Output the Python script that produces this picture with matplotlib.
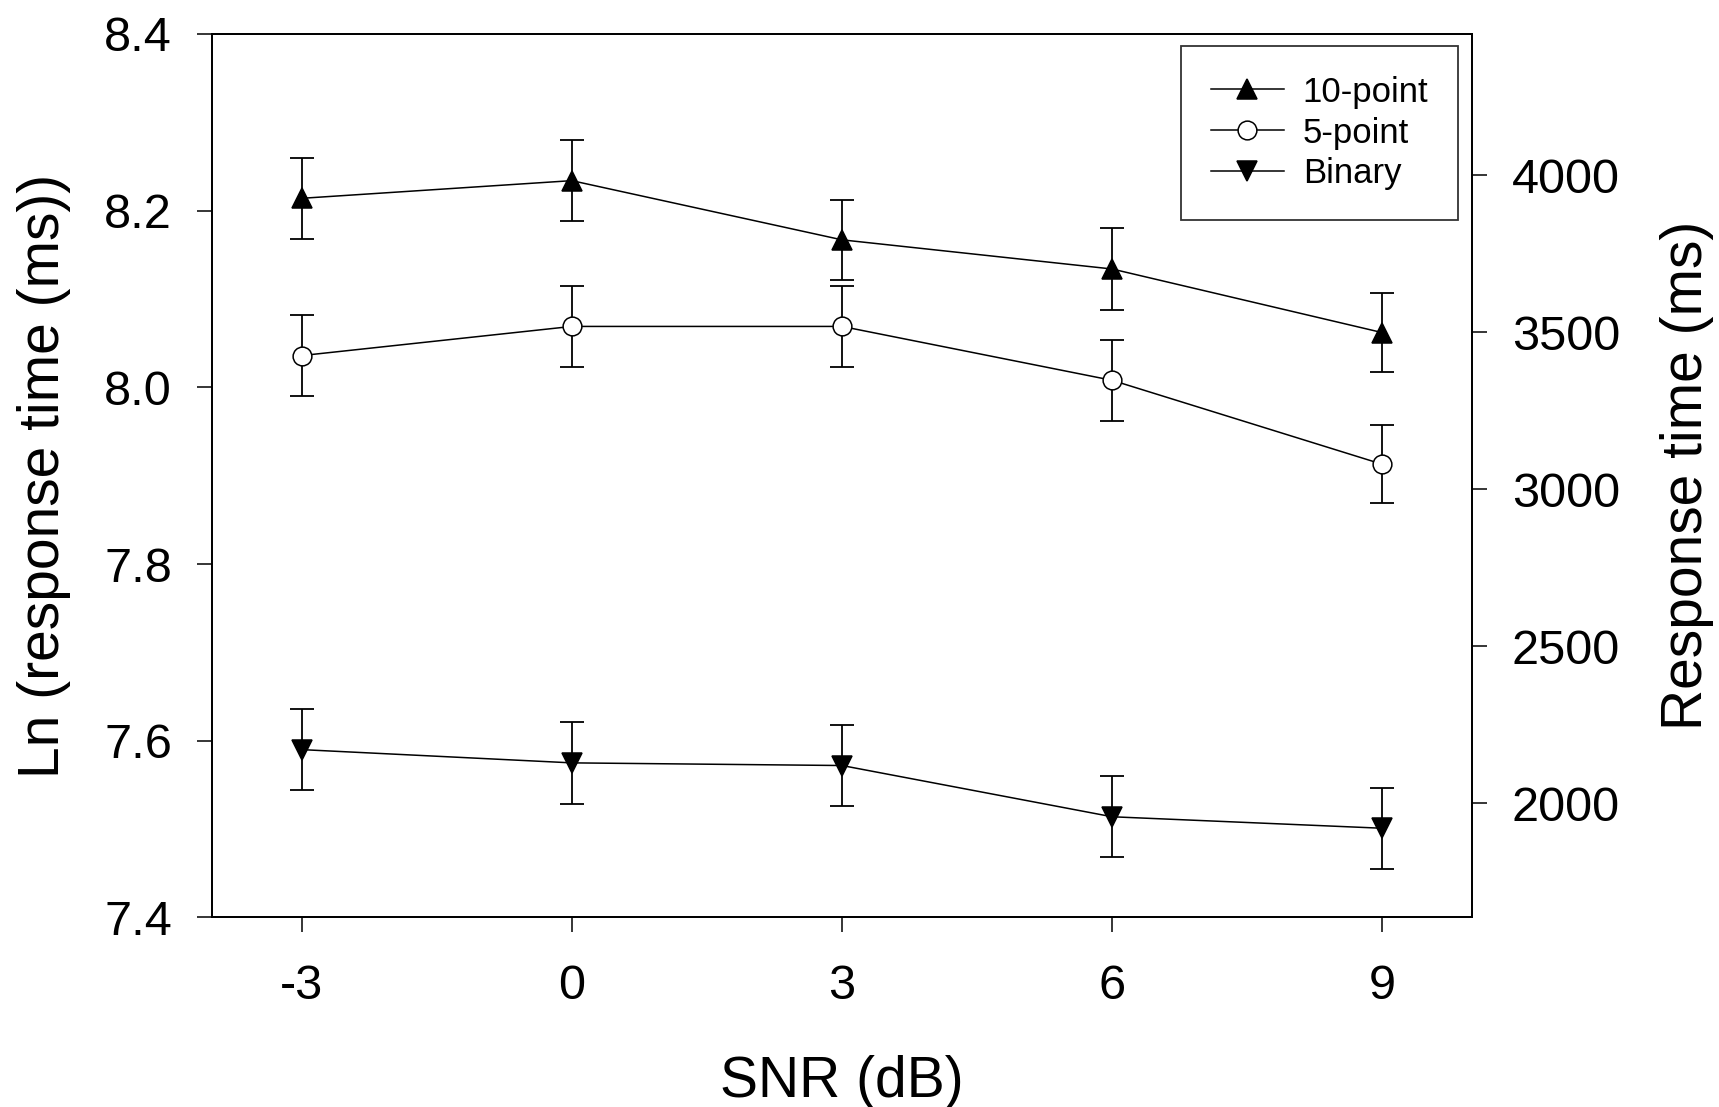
import matplotlib.pyplot as plt
import numpy as np

plt.rcParams['font.family'] = ['Liberation Sans', 'DejaVu Sans']
plt.rcParams['axes.unicode_minus'] = False

# Datos: SNR y ln del tiempo de respuesta (media y error)
snr = [-3, 0, 3, 6, 9]
diez_puntos = [8.214, 8.234, 8.167, 8.134, 8.062]
diez_puntos_err = [0.046, 0.046, 0.045, 0.046, 0.045]
cinco_puntos = [8.036, 8.069, 8.069, 8.008, 7.913]
cinco_puntos_err = [0.046, 0.046, 0.046, 0.046, 0.044]
binario = [7.590, 7.575, 7.572, 7.514, 7.501]
binario_err = [0.046, 0.046, 0.046, 0.046, 0.046]

etiquetas = ['10-point', '5-point', 'Binary']
ticks_x = [-3, 0, 3, 6, 9]
ticks_izq = [7.4, 7.6, 7.8, 8.0, 8.2, 8.4]
ticks_der = [2000, 2500, 3000, 3500, 4000]

fig = plt.figure(figsize=(17.19, 11.07), dpi=100)
ax = fig.add_axes([0.1231, 0.1712, 0.7334, 0.7981])

series = [(diez_puntos, diez_puntos_err, '^', 'black'),
          (cinco_puntos, cinco_puntos_err, 'o', 'white'),
          (binario, binario_err, 'v', 'black')]

for (y, err, marca, relleno), nombre in zip(series, etiquetas):
    ax.errorbar(snr, y, yerr=err, fmt='none', ecolor='black',
                elinewidth=1.3, capsize=8.6, capthick=1.3, zorder=2)
    ax.plot(snr, y, color='black', lw=1.1, marker=marca, ms=14.5 if marca != 'o' else 13.5,
            mfc=relleno, mec='black', mew=1.1, label=nombre, zorder=3)

ax.set_xlim(-4, 10)
ax.set_ylim(7.4, 8.4)
ax.set_xticks(ticks_x)
ax.set_xticklabels([str(t) for t in ticks_x])
ax.set_yticks(ticks_izq)
ax.set_yticklabels(['%.1f' % t for t in ticks_izq])
ax.tick_params(axis='x', direction='out', length=10.5, width=1.1, labelsize=35, pad=23)
ax.tick_params(axis='y', direction='out', length=10.5, width=1.1, labelsize=35, pad=18)
for s in ax.spines.values():
    s.set_linewidth(1.3)

ax.set_xlabel('SNR (dB)', fontsize=41, labelpad=33)
ax.set_ylabel('Ln (response time (ms))', fontsize=41, labelpad=24)

# Eje derecho en ms
ax2 = ax.twinx()
ax2.set_ylim(1636, 4449)
ax2.set_yticks(ticks_der)
ax2.set_yticklabels([str(t) for t in ticks_der])
ax2.tick_params(axis='y', direction='out', length=10.5, width=1.1, labelsize=35, pad=18)
for s in ax2.spines.values():
    s.set_linewidth(1.3)
ax2.set_ylabel('Response time (ms)', fontsize=41, labelpad=29)

# Leyenda
leg = ax.legend(loc='upper right', bbox_to_anchor=(0.9886, 0.9864), borderaxespad=0,
                fontsize=25, frameon=True, fancybox=False, edgecolor='black',
                handlelength=2.1, handletextpad=0.55, labelspacing=0.23,
                borderpad=0.85)
leg.get_frame().set_linewidth(1.3)

plt.savefig('out.png', dpi=100)
